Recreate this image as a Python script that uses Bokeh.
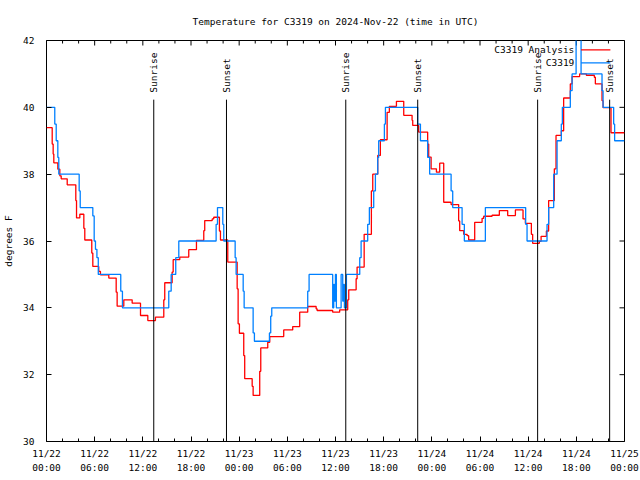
import math
from bokeh.plotting import figure
from bokeh.models import Range1d, FixedTicker, LinearAxis
from bokeh.core.properties import value
from bokeh.embed import file_html
from bokeh.resources import INLINE

FONT = "DejaVu Sans Mono"
FS = "9.5px"

title_text = "Temperature for C3319 on 2024-Nov-22 (time in UTC)"
y_label = "degrees F"

tick_hours = [0, 6, 12, 18, 24, 30, 36, 42, 48, 54, 60, 66, 72]
tick_labels = ["11/22\n00:00", "11/22\n06:00", "11/22\n12:00", "11/22\n18:00",
               "11/23\n00:00", "11/23\n06:00", "11/23\n12:00", "11/23\n18:00",
               "11/24\n00:00", "11/24\n06:00", "11/24\n12:00", "11/24\n18:00",
               "11/25\n00:00"]
minor_hours = [h for h in range(0, 73, 2) if h % 6 != 0]
y_ticks = [30, 32, 34, 36, 38, 40, 42]

# C3319 Analysis (red), hours since 11/22 00:00 UTC
analysis_hours = [0, 0.71, 0.83, 0.91, 1.41, 1.66, 1.83, 2.58, 3.65, 3.74, 4.15, 4.65, 4.77,
                  5.64, 5.77, 6.51, 6.72, 7.76, 8.68, 8.80, 9.63, 10.67, 11.71, 12.62, 13.57,
                  14.61, 14.73, 15.65, 15.78, 16.60, 17.72, 18.68, 19.59, 19.71, 20.64, 20.83,
                  21.54, 21.67, 22.58, 23.75, 23.87, 24.03, 24.57, 24.69, 25.62, 25.74, 26.56,
                  26.69, 27.56, 27.81, 29.55, 30.67, 31.54, 32.54, 33.59, 33.71, 35.65, 36.52,
                  37.52, 37.65, 38.57, 38.69, 39.57, 40.47, 40.64, 41.26, 41.59, 42.43, 42.71,
                  43.59, 44.50, 45.54, 45.62, 46.36, 47.48, 47.61, 47.91, 48.57, 48.98, 49.48,
                  50.40, 51.34, 51.47, 51.97, 52.39, 52.59, 53.34, 54.26, 54.46, 55.50, 56.41,
                  57.45, 58.41, 59.36, 59.65, 60.40, 60.56, 61.39, 61.61, 62.27, 62.55, 63.26,
                  63.47, 64.13, 64.42, 65.25, 65.47, 66.41, 67.25, 68.24, 68.37, 69.20, 69.33,
                  70.32, 72.0]
analysis_temp = [39.39, 38.9, 38.6, 38.34, 38.15, 37.95, 37.86, 37.68, 37.21, 36.69, 36.8, 36.38, 36.03,
                 35.64, 35.24, 35.09, 34.99, 34.89, 34.47, 34.05, 34.24, 34.14, 33.77, 33.62, 33.72,
                 34.24, 34.75, 35.07, 35.44, 35.52, 35.74, 36.02, 36.31, 36.61, 36.66, 36.71,
                 36.3, 36.03, 35.37, 34.57, 33.52, 33.24, 32.57, 31.88, 31.65, 31.38, 32.1,
                 32.8, 32.97, 33.14, 33.34, 33.44, 33.87, 34.04, 33.97, 33.92, 33.87, 33.94,
                 34.24, 34.54, 34.87, 35.22, 36.2, 37.5, 38.0, 38.56, 39.03, 39.85, 40.03,
                 40.18, 39.76, 39.61, 39.46, 39.26, 38.9, 38.51, 38.16, 38.06, 38.33, 37.16,
                 37.09, 36.6, 36.31, 36.2, 36.16, 36.03, 36.56, 36.68, 36.74, 36.77, 36.91,
                 36.76, 36.93, 36.66, 36.53, 36.2, 35.93, 35.99, 36.14, 36.3, 37.21, 38.16,
                 39.16, 39.3, 40.28, 40.7, 40.92, 41.0, 40.96, 40.9, 40.7, 40.2, 39.99,
                 39.24, 39.24]

# C3319 observations (blue)
obs_hours = [0, 1.03, 1.21, 1.41, 1.53, 4.07, 4.20, 5.77, 5.94, 6.10, 6.28, 6.45, 9.25, 9.46,
             15.23, 15.53, 16.10, 16.48, 21.13, 21.30, 21.96, 22.08, 23.50, 23.62, 24.50, 24.62,
             25.74, 25.90, 27.77, 27.93, 28.06, 32.54, 32.71, 35.65, 35.78, 35.87, 35.99, 36.11,
             36.70, 36.90, 37.02, 37.11, 37.36, 39.02, 39.19, 40.01, 40.22, 40.76, 40.97, 41.26,
             41.38, 42.09, 42.22, 46.24, 46.58, 47.48, 47.73, 50.40, 50.60, 51.77, 52.05, 54.67,
             59.69, 59.86, 62.35, 62.55, 63.18, 63.60, 64.13, 64.26, 65.25, 65.47, 65.97, 66.59,
             69.20, 69.33, 70.65, 70.77, 72.0]
obs_temp = [40.0, 39.5, 39.0, 38.5, 38.0, 37.5, 37.0, 36.75, 36.0, 35.75, 35.5, 35.0, 34.5, 34.0,
            34.5, 35.0, 35.5, 36.0, 36.5, 37.0, 36.5, 36.0, 35.5, 35.0, 34.5, 34.0,
            33.25, 33.0, 33.25, 33.75, 34.0, 34.5, 35.0, 34.0, 34.7, 34.2, 35.0, 34.0,
            35.0, 34.2, 34.7, 34.0, 35.0, 35.5, 36.0, 36.5, 37.0, 37.5, 38.0, 38.5,
            39.0, 39.5, 40.0, 39.5, 39.0, 38.5, 38.0, 37.5, 37.0, 36.5, 36.0, 37.0,
            36.5, 36.0, 36.5, 37.0, 38.0, 39.0, 39.5, 40.0, 40.5, 41.0, 43.0, 41.0,
            40.5, 40.0, 39.5, 39.0, 39.0]

sun_hours = [13.36, 22.42, 37.28, 46.24, 61.18, 70.15]
sun_labels = ["Sunrise", "Sunset", "Sunrise", "Sunset", "Sunrise", "Sunset"]
sun_line_top = 40.23
sun_text_y = 40.44

legend_names = ["C3319 Analysis", "C3319"]
legend_colors = ["#ff0000", "#0080ff"]
legend_y = [41.72, 41.33]
legend_text_x = 65.75
legend_x0, legend_x1 = 66.59, 70.24

X0, X1, Y0, Y1 = 0, 72, 30, 42

p = figure(width=640, height=480, output_backend="svg", toolbar_location=None,
           x_range=Range1d(X0, X1), y_range=Range1d(Y0, Y1),
           min_border_left=46, min_border_right=16, min_border_top=40, min_border_bottom=39,
           x_axis_type=None, y_axis_type=None)
p.background_fill_color = "white"
p.border_fill_color = "white"
p.outline_line_color = "black"
p.outline_line_width = 1
p.grid.visible = False

p.title.text = title_text
p.title.text_font = FONT
p.title.text_font_size = FS
p.title.text_font_style = "normal"
p.title.align = "center"
p.title.text_color = "black"
p.title.standoff = 27

xt = FixedTicker(ticks=tick_hours, minor_ticks=minor_hours)
yt = FixedTicker(ticks=y_ticks, minor_ticks=[])

def style_axis(ax):
    ax.axis_line_color = None
    ax.major_tick_in = 5
    ax.major_tick_out = 0
    ax.minor_tick_in = 3
    ax.minor_tick_out = 0
    ax.major_tick_line_color = "black"
    ax.minor_tick_line_color = "black"
    ax.major_label_text_font = FONT
    ax.major_label_text_font_size = FS
    ax.major_label_text_color = "black"
    ax.axis_label_text_font = FONT
    ax.axis_label_text_font_size = FS
    ax.axis_label_text_font_style = "normal"
    ax.axis_label_text_color = "black"

xb = LinearAxis(ticker=xt)
style_axis(xb)
xb.major_label_overrides = {h: lab for h, lab in zip(tick_hours, tick_labels)}
xb.major_label_standoff = 6
xb.major_label_text_line_height = 1.3
p.add_layout(xb, "below")

yl = LinearAxis(ticker=yt, axis_label=y_label)
style_axis(yl)
yl.major_label_standoff = 12
yl.axis_label_standoff = 6
p.add_layout(yl, "left")

# mirrored ticks on the top and right borders (gnuplot style, pointing inward)
p.scatter(x=tick_hours, y=[Y1] * len(tick_hours), marker="dash", size=10, angle=math.pi / 2,
          line_color="black", line_width=1)
p.scatter(x=minor_hours, y=[Y1] * len(minor_hours), marker="dash", size=6, angle=math.pi / 2,
          line_color="black", line_width=1)
p.scatter(x=[X1] * len(y_ticks), y=y_ticks, marker="dash", size=10,
          line_color="black", line_width=1)

# data
p.step(analysis_hours, analysis_temp, mode="after", line_color=legend_colors[0], line_width=1.3)
p.step(obs_hours, obs_temp, mode="after", line_color=legend_colors[1], line_width=1.3)

# sunrise / sunset markers
p.segment(x0=sun_hours, y0=[Y0] * len(sun_hours), x1=sun_hours, y1=[sun_line_top] * len(sun_hours),
          line_color="black", line_width=1)
p.text(x=sun_hours, y=[sun_text_y] * len(sun_hours), text=sun_labels, angle=math.pi / 2,
       text_align="left", text_baseline="middle", text_font=value(FONT), text_font_size=FS,
       text_color="black")

# legend
p.text(x=[legend_text_x] * 2, y=legend_y, text=legend_names, text_align="right",
       text_baseline="middle", text_font=value(FONT), text_font_size=FS, text_color="black")
p.segment(x0=[legend_x0] * 2, y0=legend_y, x1=[legend_x1] * 2, y1=legend_y,
          line_color=legend_colors, line_width=1.3)

open("out.html", "w").write(file_html(p, INLINE))
